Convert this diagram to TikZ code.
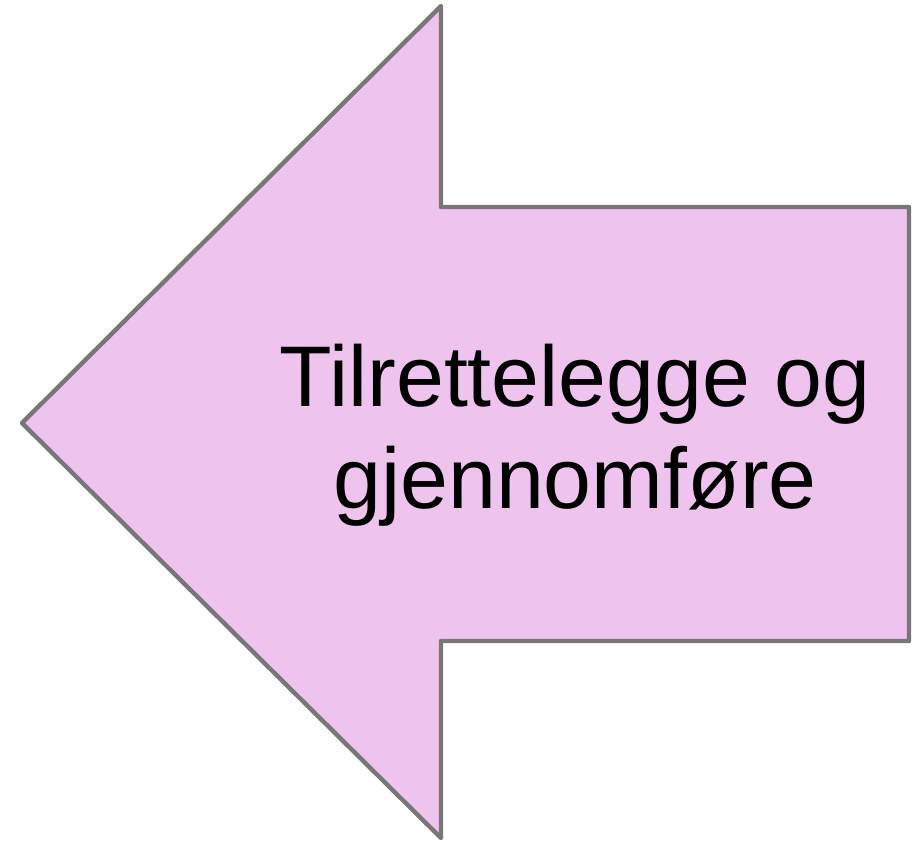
\documentclass[tikz,border=0pt]{standalone}
\usepackage{fontspec}
\setmainfont{Liberation Sans}
\usepackage{tikz}
\definecolor{arrowFill}{HTML}{EEC3EE}
\definecolor{arrowLine}{HTML}{777777}

\begin{document}
\begin{tikzpicture}[
    x=0.02cm, y=-0.02cm,
    arrowShape/.style={fill=arrowFill, draw=arrowLine, line width=2.5pt, line join=round},
    arrowText/.style={
        align=center,
        font=\fontsize{49}{58}\selectfont,
        }
        ]
    \useasboundingbox (0, 0) rectangle (917, 843);

    \coordinate (tip) at (22, 423);
    \coordinate (headTop) at (441, 6);
    \coordinate (headBottom) at (441, 838);
    \coordinate (shaftTop) at (909, 207);
    \coordinate (shaftBottom) at (909, 641);

    \draw[arrowShape] (tip) -- (headTop) -- (headTop |- shaftTop) -- (shaftTop) -- (shaftBottom) -- (headBottom |- shaftBottom) -- (headBottom) -- cycle;

    \node[arrowText] (label) at (575, 435) {Tilrettelegge og\\gjennomføre};
\end{tikzpicture}
\end{document}
